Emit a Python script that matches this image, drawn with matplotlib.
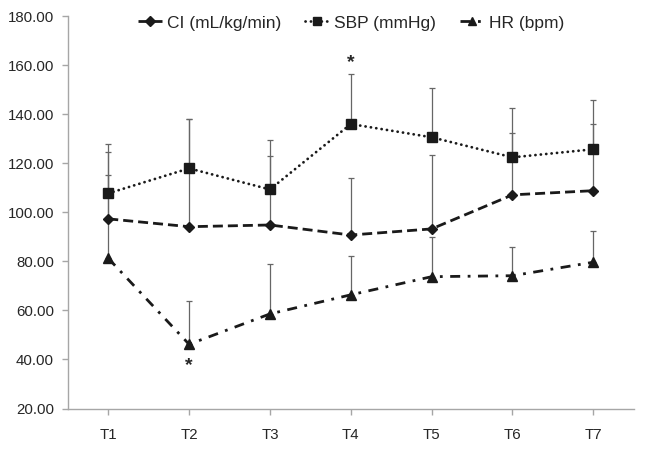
import matplotlib
matplotlib.use("Agg")
import matplotlib.pyplot as plt
import numpy as np

matplotlib.rcParams["font.family"] = ["Liberation Sans", "DejaVu Sans"]

times = ["T1", "T2", "T3", "T4", "T5", "T6", "T7"]

ci_mean = [97.4, 94.2, 94.9, 90.8, 93.3, 107.2, 108.9]
ci_upper = [124.7, 138.2, 123.1, 114.2, 123.5, 132.6, 136.0]

sbp_mean = [107.8, 118.0, 109.4, 136.1, 130.7, 122.5, 125.8]
sbp_upper = [128.0, 138.2, 129.6, 156.4, 150.7, 142.8, 145.8]

hr_mean = [81.3, 46.2, 58.6, 66.4, 73.8, 74.2, 79.7]
hr_upper = [115.4, 63.9, 78.9, 82.1, 90.1, 86.1, 92.6]

# significance marks: (index, y position)
stars = [(3, 161.0), (1, 37.5)]

text_col = "#262626"
axis_col = "#a6a6a6"

fig = plt.figure(figsize=(6.46, 4.49), dpi=100)
ax = fig.add_axes([0.105, 0.0902, 0.876, 0.8731])

x = np.arange(len(times))

series = [
    (ci_mean, ci_upper, "CI (mL/kg/min)", "D", 5.5, (0, (3.6, 1.8)), "butt"),
    (sbp_mean, sbp_upper, "SBP (mmHg)", "s", 7, (0, (0.05, 1.9)), "round"),
    (hr_mean, hr_upper, "HR (bpm)", "^", 7, (0, (3.6, 2.7, 1.0, 2.7)), "butt"),
]

handles = []
for mean, upper, label, mk, ms, ls, cap in series:
    mean = np.array(mean)
    err = np.array(upper) - mean
    ax.errorbar(x, mean, yerr=[np.zeros_like(err), err], fmt="none",
                ecolor="#666666", elinewidth=0.9, capsize=2.5, capthick=0.9,
                zorder=2)
    ln, = ax.plot(x, mean, color="#1a1a1a", lw=2.0, linestyle=ls,
                  dash_capstyle=cap, marker=mk, markersize=ms,
                  markerfacecolor="#1a1a1a", markeredgecolor="#1a1a1a",
                  label=label, zorder=3)
    handles.append(ln)

for i, yv in stars:
    ax.text(x[i], yv, "*", ha="center", va="center", fontsize=14,
            fontweight="bold", color=text_col)

ax.set_xlim(-0.5, 6.5)
ax.set_ylim(20, 180)
ax.set_yticks(np.arange(20, 181, 20))
ax.set_yticklabels([f"{v:.2f}" for v in np.arange(20, 181, 20)])
ax.set_xticks(x)
ax.set_xticklabels(times)

for side in ["top", "right"]:
    ax.spines[side].set_visible(False)
for side in ["left", "bottom"]:
    ax.spines[side].set_color(axis_col)
    ax.spines[side].set_linewidth(1.0)
ax.tick_params(axis="both", colors=axis_col, labelcolor=text_col,
               labelsize=10.8, length=4, width=1.0)
ax.tick_params(axis="x", pad=10)
ax.tick_params(axis="y", pad=6)

fig.legend(handles=handles, loc="center", bbox_to_anchor=(351 / 646, 1 - 23 / 449),
           ncol=3, frameon=False, fontsize=12.5, handlelength=1.4,
           handletextpad=0.25, columnspacing=1.4, markerscale=0.9,
           labelcolor=text_col)

fig.savefig("out.png", dpi=100)
